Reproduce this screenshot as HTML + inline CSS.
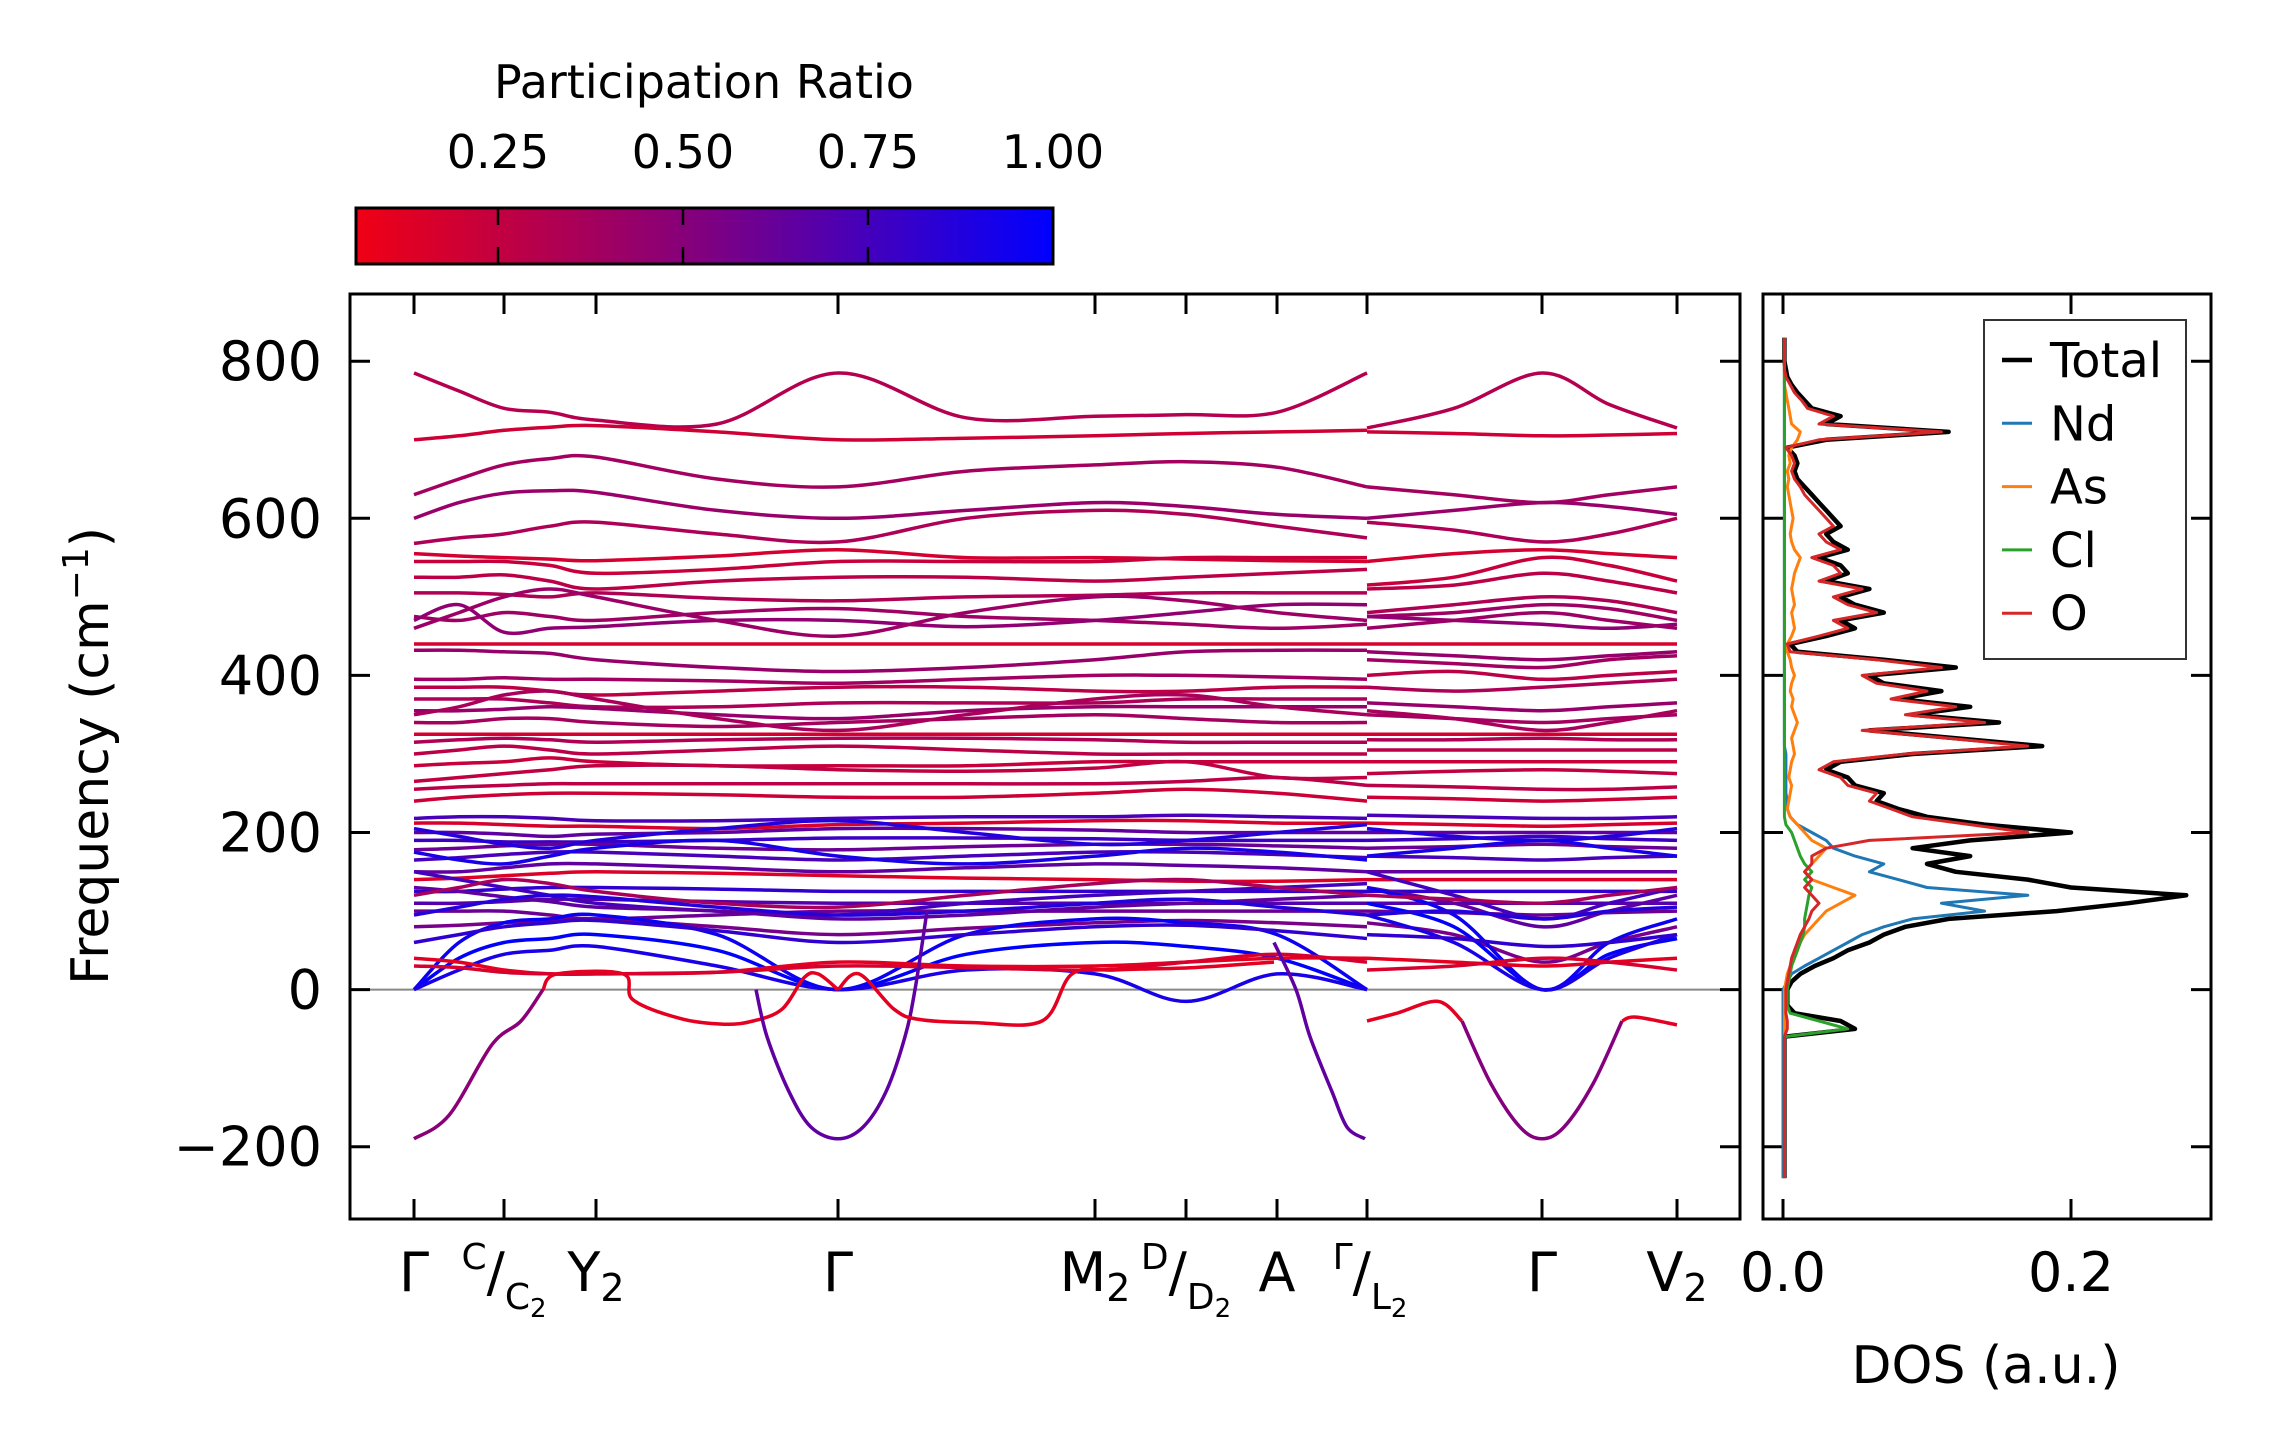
<!DOCTYPE html>
<html><head><meta charset="utf-8"><style>
html,body{margin:0;padding:0;background:#fff}
svg{display:block}
text{font-family:"DejaVu Sans","Liberation Sans",sans-serif;fill:#000}
</style></head><body>
<svg id="chart" width="2271" height="1455" viewBox="0 0 2271 1455">
<defs>
<linearGradient id="cmap" x1="0" x2="1" y1="0" y2="0">
<stop offset="0" stop-color="rgb(240,0,20)"/><stop offset="0.5" stop-color="rgb(128,0,128)"/><stop offset="1" stop-color="rgb(0,0,255)"/>
</linearGradient>
<clipPath id="mainClip"><rect x="350" y="294" width="1390" height="925"/></clipPath>
<clipPath id="dosClip"><rect x="1763" y="294" width="448" height="925"/></clipPath>
</defs>
<g>
<text x="704" y="98" font-size="46" text-anchor="middle">Participation Ratio</text>
<rect x="356" y="208" width="697" height="56" fill="url(#cmap)" stroke="#000" stroke-width="3"/>
<g id="cbticks"></g>
</g>
<g id="main">
<line x1="350" x2="1740" y1="989.6" y2="989.6" stroke="#888" stroke-width="2"/>
<g id="bands" clip-path="url(#mainClip)"></g>
<rect x="350" y="294" width="1390" height="925" fill="none" stroke="#000" stroke-width="3"/>
<g id="mainTicks"></g>
<text transform="translate(108,756) rotate(-90)" font-size="52" text-anchor="middle">Frequency (cm<tspan font-size="36" dy="-20">−1</tspan><tspan dy="20">)</tspan></text>
<g font-size="54">
<text x="414" y="1291" text-anchor="middle">Γ</text>
<text x="504" y="1291" text-anchor="middle"><tspan font-size="36" dy="-22">C</tspan><tspan dy="22">/</tspan><tspan font-size="36" dy="18">C</tspan><tspan font-size="26" dy="8">2</tspan></text>
<text x="596" y="1291" text-anchor="middle">Y<tspan font-size="38" dy="10">2</tspan></text>
<text x="838" y="1291" text-anchor="middle">Γ</text>
<text x="1095" y="1291" text-anchor="middle">M<tspan font-size="38" dy="10">2</tspan></text>
<text x="1186" y="1291" text-anchor="middle"><tspan font-size="36" dy="-22">D</tspan><tspan dy="22">/</tspan><tspan font-size="36" dy="18">D</tspan><tspan font-size="26" dy="8">2</tspan></text>
<text x="1277" y="1291" text-anchor="middle">A</text>
<text x="1370" y="1291" text-anchor="middle"><tspan font-size="36" dy="-22">Γ</tspan><tspan dy="22">/</tspan><tspan font-size="36" dy="18">L</tspan><tspan font-size="26" dy="8">2</tspan></text>
<text x="1542" y="1291" text-anchor="middle">Γ</text>
<text x="1677" y="1291" text-anchor="middle">V<tspan font-size="38" dy="10">2</tspan></text>
</g>
</g>
<g id="dos">
<g id="dosLines" clip-path="url(#dosClip)"></g>
<rect x="1763" y="294" width="448" height="925" fill="none" stroke="#000" stroke-width="3"/>
<g id="dosTicks"></g>
<text x="1986" y="1383" font-size="52" text-anchor="middle">DOS (a.u.)</text>
<g>
<rect x="1984" y="320" width="202" height="339" fill="#fff" stroke="#333" stroke-width="2"/>
<g id="legendEntries"></g>
</g>
</g>
</svg>
<script>
// ---------- band structure data ----------
const kTicks=[0,90,182,424,681,772,863,953,1128,1263];
const kLeft=[0,45,90,136,182,303,424,552,681,772,863,953];
const kRight=[953,1040,1128,1195,1263];
const yTicks=[-200,0,200,400,600,800];
const bandsLeft=[
[785,762,740,735,725,720,785,728,730,732,735,785],
[700,705,712,716,718,710,700,702,705,708,710,712],
[630,650,668,676,678,650,640,660,668,672,665,640],
[600,620,632,635,633,610,600,610,620,615,605,600],
[568,575,580,590,595,580,570,600,610,605,590,575],
[555,552,550,548,546,552,560,550,550,548,546,545],
[545,545,545,540,530,535,545,545,545,550,550,550],
[525,525,528,520,510,520,525,525,520,525,530,535],
[505,505,503,500,505,498,495,500,502,505,505,505],
[475,470,480,475,470,480,485,475,470,465,460,465],
[470,490,455,460,462,470,470,462,470,480,490,490],
[440,440,440,440,440,440,440,440,440,440,440,440],
[432,432,430,428,420,410,405,410,420,430,432,432],
[395,395,397,395,395,393,390,395,400,400,398,395],
[385,385,385,380,375,380,385,385,380,380,385,385],
[370,370,370,365,360,360,365,365,365,370,370,370],
[355,355,357,360,358,350,345,355,360,360,360,360],
[340,340,345,345,340,335,340,345,350,345,340,340],
[325,325,325,325,325,325,325,325,325,325,325,325],
[315,318,320,318,315,318,320,320,318,315,315,315],
[300,305,310,305,300,305,310,305,300,300,300,300],
[285,288,290,295,290,285,285,285,290,290,290,290],
[265,270,275,280,285,285,280,278,282,290,270,270],
[255,258,260,262,262,262,262,262,262,265,270,260],
[240,245,248,250,250,248,245,245,250,255,250,240],
[218,220,220,218,215,215,218,220,220,222,220,218],
[212,212,210,208,208,205,210,212,215,215,212,212],
[200,200,198,195,198,200,205,205,203,200,200,200],
[190,190,188,188,188,190,193,193,192,190,190,190],
[178,180,183,185,185,180,178,182,185,185,183,180],
[165,168,172,175,175,170,165,170,175,175,172,168],
[150,150,155,160,160,155,150,155,160,158,155,150],
[140,142,145,148,150,148,145,142,140,138,138,140],
[125,125,128,130,130,128,125,125,125,125,125,125],
[110,110,112,115,115,112,110,110,110,110,110,110],
[100,100,100,95,90,95,100,100,100,100,100,100],
[150,140,130,120,110,100,95,110,120,125,130,135],
[130,125,118,112,105,100,90,95,105,110,115,120],
[80,82,85,88,90,80,70,78,85,88,85,80],
[0,40,60,65,70,50,0,45,60,55,40,0],
[0,60,85,90,95,70,0,70,90,85,70,0],
[0,25,45,50,55,30,0,25,20,-15,20,0],
[40,35,25,20,20,22,35,30,30,35,40,40],
[30,28,22,20,20,22,30,28,25,35,45,35],
[205,195,185,180,190,205,215,200,185,190,200,210],
[175,165,160,170,180,190,170,160,170,180,175,165],
[120,130,140,135,125,110,105,120,135,140,130,120],
[95,105,115,120,118,105,95,100,110,115,105,95],
[60,70,80,85,88,75,60,70,80,82,75,65],
[350,360,375,380,370,345,330,350,370,375,360,350],
[460,480,500,510,500,470,450,480,500,495,480,470]
];
const bandsRight=[
[715,740,785,745,715],
[710,708,705,706,708],
[640,630,620,630,640],
[600,610,620,615,605],
[595,585,570,580,600],
[545,555,560,555,550],
[515,525,550,540,520],
[510,515,530,520,505],
[480,490,500,495,480],
[475,480,490,485,470],
[475,470,465,460,465],
[440,440,440,440,440],
[430,425,420,425,430],
[420,415,410,420,425],
[400,405,395,400,405],
[385,380,385,390,395],
[365,360,355,360,365],
[350,345,340,345,350],
[325,325,325,325,325],
[318,318,320,318,318],
[305,305,305,305,305],
[290,290,290,290,290],
[275,278,280,278,275],
[260,258,255,255,258],
[245,243,240,242,245],
[222,220,218,218,220],
[212,210,208,210,212],
[200,200,200,200,200],
[190,192,195,192,190],
[180,182,185,182,180],
[170,168,165,168,170],
[150,150,150,150,150],
[140,140,140,140,140],
[125,125,125,125,125],
[110,110,110,110,110],
[100,98,95,98,100],
[150,120,90,110,130],
[130,110,80,100,120],
[85,70,35,60,80],
[110,80,0,45,65],
[130,95,0,60,90],
[95,60,0,40,70],
[40,35,30,35,40],
[25,30,40,35,25],
[205,195,190,195,205],
[170,180,190,180,170],
[120,115,110,120,130],
[95,100,90,100,105],
[70,65,55,60,70],
[355,345,330,340,355],
[460,470,480,470,460]
];
const bandPR=[0.25,0.14,0.32,0.36,0.28,0.12,0.17,0.22,0.27,0.34,0.4,0.1,0.37,0.33,0.22,0.28,0.37,0.32,0.12,0.27,0.22,0.17,0.2,0.22,0.15,0.7,0.1,0.6,0.75,0.55,0.7,0.6,0.08,0.8,0.65,0.55,0.72,0.6,0.5,1.0,0.95,0.9,0.05,0.1,0.85,0.9,0.3,0.85,0.8,0.3,0.35];
// soft modes (own k samples)
const softK=[
[0,35,78,107,129],
[129,143,209,219,267,310,339,368,390,404,424],
[342,353,375,397,424,449,472,491,501,513],
[424,445,480,505,560,628,658,700,780,860],
[860,882,896,918,933,951],
[953,983,1024,1048],
[1048,1077,1106,1128,1150,1179,1208],
[1208,1222,1263]
];
const softF=[
[-190,-160,-70,-40,0],
[0,20,20,-13,-37,-44,-40,-25,15,20,0],
[0,-60,-130,-175,-190,-175,-130,-60,0,100],
[0,20,-25,-38,-42,-40,20,25,28,35],
[60,0,-60,-130,-175,-190],
[-40,-30,-15,-40],
[-40,-120,-175,-190,-175,-120,-40],
[-40,-35,-45]
];
const softPR=[0.42,0.05,0.6,0.05,0.6,0.05,0.45,0.05];
// ---------- DOS data ----------
const dosFreq=[];for(let f=-240;f<=830;f+=10)dosFreq.push(f);
const dosTotal=[0.001,0.001,0.001,0.001,0.001,0.001,0.001,0.001,0.001,0.001,0.001,0.001,0.001,0.001,0.001,0.001,0.001,0.001,0.001,
0.05,0.04,0.008,0.003,0.003,0.003,
0.006,0.012,0.022,0.035,0.045,0.06,0.07,0.085,0.115,0.19,
0.24,0.28,0.2,0.17,0.12,0.1,0.13,0.09,0.13,0.2,
0.14,0.1,0.08,0.065,0.07,0.05,0.045,0.03,0.04,0.09,
0.18,0.12,0.06,0.15,0.09,0.13,0.08,0.11,0.07,0.06,
0.12,0.07,0.01,0.005,0.03,0.05,0.04,0.07,0.05,0.04,
0.06,0.03,0.045,0.04,0.025,0.045,0.035,0.03,0.04,0.035,
0.03,0.025,0.02,0.015,0.01,0.008,0.01,0.008,0.003,0.03,
0.115,0.03,0.04,0.02,0.015,0.01,0.006,0.003,0.002,0.001,
0.001,0.001,0.001];
const dosO=[0.001,0.001,0.001,0.001,0.001,0.001,0.001,0.001,0.001,0.001,0.001,0.001,0.001,0.001,0.001,0.001,0.001,0.001,0.001,
0.003,0.003,0.002,0.002,0.002,0.002,
0.003,0.004,0.005,0.006,0.008,0.01,0.012,0.015,0.018,0.02,
0.025,0.02,0.015,0.02,0.015,0.02,0.02,0.03,0.06,0.17,
0.13,0.09,0.075,0.06,0.065,0.045,0.04,0.025,0.035,0.085,
0.17,0.115,0.055,0.14,0.085,0.12,0.075,0.1,0.065,0.055,
0.11,0.065,0.005,0.003,0.025,0.045,0.035,0.065,0.045,0.035,
0.055,0.025,0.04,0.035,0.02,0.04,0.03,0.025,0.035,0.03,
0.025,0.02,0.015,0.012,0.008,0.006,0.008,0.006,0.002,0.025,
0.11,0.025,0.035,0.017,0.013,0.008,0.005,0.002,0.001,0.001,
0.001,0.001,0.001];
const dosNd=[0,0,0,0,0,0,0,0,0,0,0,0,0,0,0,0,0,0,0,0,0,0,0,0,0,
0.003,0.006,0.015,0.025,0.035,0.045,0.055,0.07,0.09,0.14,
0.11,0.17,0.1,0.08,0.06,0.07,0.05,0.035,0.03,0.02,
0.01,0.005,0.003,0.003,0.002,0.002,0.002,0.002,0.002,0.002,
0.001,0.001,0.001,0.001,0.001,0.001,0.001,0.001,0.001,0.001,
0.001,0.001,0.001,0.001,0.001,0.001,0.001,0.001,0.001,0.001,
0.001,0.001,0.001,0.001,0.001,0.001,0.001,0.001,0.001,0.001,
0.001,0.001,0.001,0.001,0.001,0.001,0.001,0.001,0.001,0.001,
0.001,0.001,0.001,0.001,0.001,0.001,0.001,0.001,0.001,0.001,
0.001,0.001,0.001];
const dosAs=[0.001,0.001,0.001,0.001,0.001,0.001,0.001,0.001,0.001,0.001,0.001,0.001,0.001,0.001,0.001,0.001,0.001,0.001,0.001,
0.001,0.001,0.001,0.001,0.001,0.001,
0.002,0.003,0.005,0.008,0.01,0.012,0.015,0.02,0.025,0.03,
0.04,0.05,0.035,0.02,0.015,0.02,0.025,0.03,0.02,0.015,
0.01,0.005,0.003,0.004,0.005,0.006,0.004,0.005,0.006,0.008,
0.007,0.006,0.008,0.01,0.008,0.006,0.007,0.005,0.006,0.008,
0.006,0.005,0.003,0.003,0.006,0.008,0.007,0.006,0.008,0.007,
0.006,0.007,0.008,0.01,0.012,0.008,0.006,0.005,0.006,0.007,
0.006,0.005,0.004,0.003,0.004,0.003,0.005,0.004,0.006,0.01,
0.012,0.006,0.005,0.004,0.003,0.002,0.001,0.001,0.001,0.001,
0.001,0.001,0.001];
const dosCl=[0.001,0.001,0.001,0.001,0.001,0.001,0.001,0.001,0.001,0.001,0.001,0.001,0.001,0.001,0.001,0.001,0.001,0.001,0.001,
0.045,0.025,0.005,0.003,0.003,0.003,
0.004,0.005,0.006,0.008,0.01,0.012,0.014,0.015,0.015,0.016,
0.017,0.018,0.02,0.015,0.02,0.015,0.012,0.01,0.008,0.006,
0.002,0.001,0.001,0.001,0.001,0.001,0.001,0.001,0.001,0.001,
0.001,0.001,0.001,0.001,0.001,0.001,0.001,0.001,0.001,0.001,
0.001,0.001,0.001,0.001,0.001,0.001,0.001,0.001,0.001,0.001,
0.001,0.001,0.001,0.001,0.001,0.001,0.001,0.001,0.001,0.001,
0.001,0.001,0.001,0.001,0.001,0.001,0.001,0.001,0.001,0.001,
0.001,0.001,0.001,0.001,0.001,0.001,0.001,0.001,0.001,0.001,
0.001,0.001,0.001];
const dosNames=['Total','Nd','As','Cl','O'];
const dosColors=['#000000','#1f77b4','#ff7f0e','#2ca02c','#d62728'];
const dosTickVals=[0.0,0.2];
const cbTickVals=[0.25,0.5,0.75,1.0];

// ---------- scales ----------
const NS='http://www.w3.org/2000/svg';
function xK(k){return 414+k*(1677-414)/1263;}
function yF(f){return 989.6-f*(157.1/200);}
function xD(d){return 1783+d*(2071-1783)/0.2;}
function xCB(p){return 313+p*(1053-313);}
function prColor(p){const r=Math.round(240*(1-p)),b=Math.round(20+235*p);return `rgb(${r},0,${b})`;}
function mk(tag,attrs,parent){const e=document.createElementNS(NS,tag);for(const a in attrs)e.setAttribute(a,attrs[a]);parent.appendChild(e);return e;}
function smoothPath(pts){
  let d=`M${pts[0][0].toFixed(1)},${pts[0][1].toFixed(1)}`;
  for(let i=0;i<pts.length-1;i++){
    const p0=pts[i-1]||pts[i],p1=pts[i],p2=pts[i+1],p3=pts[i+2]||p2;
    const c1=[p1[0]+(p2[0]-p0[0])/6,p1[1]+(p2[1]-p0[1])/6];
    const c2=[p2[0]-(p3[0]-p1[0])/6,p2[1]-(p3[1]-p1[1])/6];
    d+=`C${c1[0].toFixed(1)},${c1[1].toFixed(1)} ${c2[0].toFixed(1)},${c2[1].toFixed(1)} ${p2[0].toFixed(1)},${p2[1].toFixed(1)}`;
  }
  return d;
}
// ---------- draw bands ----------
const gB=document.getElementById('bands');
bandsLeft.forEach((b,i)=>{
  const p=mk('path',{d:smoothPath(b.map((f,j)=>[xK(kLeft[j]),yF(f)])),fill:'none',stroke:prColor(bandPR[i]),'stroke-width':3.5},gB);
  
  
});
bandsRight.forEach((b,i)=>{
  const p=mk('path',{d:smoothPath(b.map((f,j)=>[xK(kRight[j]),yF(f)])),fill:'none',stroke:prColor(bandPR[i]),'stroke-width':3.5},gB);
  
  
});
softK.forEach((ks,i)=>{
  const p=mk('path',{d:smoothPath(ks.map((k,j)=>[xK(k),yF(softF[i][j])])),fill:'none',stroke:prColor(softPR[i]),'stroke-width':3.5},gB);
  
  
});
// ---------- main ticks ----------
const gT=document.getElementById('mainTicks');
kTicks.forEach(k=>{
  const x=xK(k);
  const t1=mk('line',{x1:x,x2:x,y1:294,y2:314,stroke:'#000','stroke-width':3},gT);
  
  
  const t2=mk('line',{x1:x,x2:x,y1:1199,y2:1219,stroke:'#000','stroke-width':3},gT);
  
  
});
yTicks.forEach(v=>{
  const y=yF(v);
  const a=mk('line',{x1:350,x2:370,y1:y,y2:y,stroke:'#000','stroke-width':3},gT);
  
  
  const b=mk('line',{x1:1720,x2:1740,y1:y,y2:y,stroke:'#000','stroke-width':3},gT);
  
  
  const t=mk('text',{x:322,y:y+19,'font-size':54,'text-anchor':'end'},gT);
  t.textContent=v<0?'−'+Math.abs(v):String(v);
  
  
  const c=mk('line',{x1:1763,x2:1783,y1:y,y2:y,stroke:'#000','stroke-width':3},gT);
  
  
  const d=mk('line',{x1:2191,x2:2211,y1:y,y2:y,stroke:'#000','stroke-width':3},gT);
  
  
});
// ---------- DOS ----------
const gD=document.getElementById('dosLines');
const series=[dosTotal,dosNd,dosAs,dosCl,dosO];
[0,1,2,3,4].forEach(i=>{
  const pts=series[i].map((v,j)=>`${xD(v).toFixed(1)},${yF(dosFreq[j]).toFixed(1)}`).join(' ');
  const pl=mk('polyline',{points:pts,fill:'none',stroke:dosColors[i],'stroke-width':i===0?4.5:3,'stroke-linejoin':'round'},gD);
  
  
});
const gDT=document.getElementById('dosTicks');
dosTickVals.forEach(v=>{
  const x=xD(v);
  const a=mk('line',{x1:x,x2:x,y1:294,y2:314,stroke:'#000','stroke-width':3},gDT);
  
  
  const b=mk('line',{x1:x,x2:x,y1:1199,y2:1219,stroke:'#000','stroke-width':3},gDT);
  
  
  const t=mk('text',{x:x,y:1291,'font-size':54,'text-anchor':'middle'},gDT);
  t.textContent=v.toFixed(1);
  
  
});
const gL=document.getElementById('legendEntries');
dosNames.forEach((n,i)=>{
  const y=360+i*63.3;
  const l=mk('line',{x1:2002,x2:2032,y1:y,y2:y,stroke:dosColors[i],'stroke-width':i===0?4.5:3},gL);
  
  
  const t=mk('text',{x:2050,y:y+17,'font-size':48},gL);
  t.textContent=n;
  
  
});
// ---------- colorbar ticks ----------
const gC=document.getElementById('cbticks');
cbTickVals.forEach(v=>{
  const x=xCB(v);
  if(v<1){
    const a=mk('line',{x1:x,x2:x,y1:208,y2:225,stroke:'#000','stroke-width':2.5},gC);
    
    
    const b=mk('line',{x1:x,x2:x,y1:247,y2:264,stroke:'#000','stroke-width':2.5},gC);
    
    
  }
  const t=mk('text',{x:x,y:168,'font-size':46,'text-anchor':'middle'},gC);
  t.textContent=v.toFixed(2);
  
  
});
</script>
</body></html>
